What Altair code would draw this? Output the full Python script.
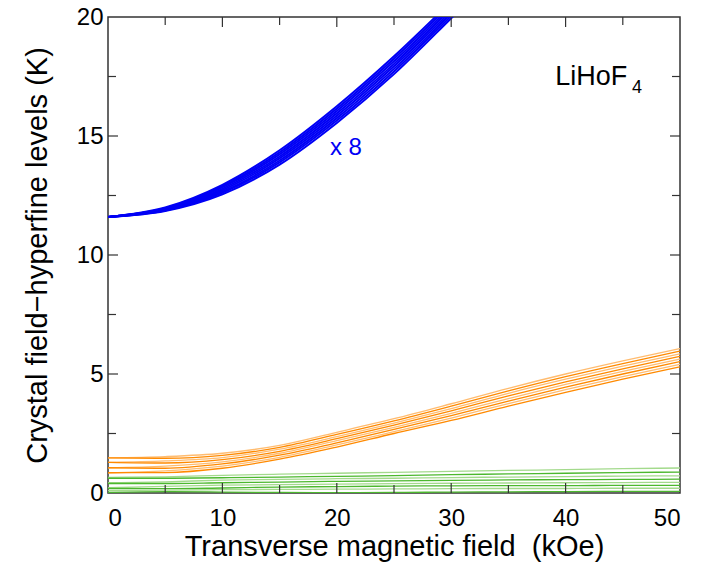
import altair as alt
import pandas as pd

# Field values (kOe) at which the levels are tabulated
field_blue = [0, 5, 10, 15, 20, 25, 30, 35]
field = [0, 5, 10, 15, 20, 25, 30, 35, 40, 45, 50]

# Upper multiplet (plotted energies scaled x 8), eight hyperfine levels (K)
blue_levels = [
    [11.6, 11.85, 12.55, 13.80, 15.55, 17.60, 19.95, 22.35],
    [11.6, 11.87, 12.61, 13.89, 15.65, 17.71, 20.05, 22.45],
    [11.6, 11.89, 12.66, 13.97, 15.75, 17.82, 20.15, 22.55],
    [11.6, 11.91, 12.72, 14.06, 15.85, 17.93, 20.25, 22.65],
    [11.6, 11.93, 12.78, 14.14, 15.95, 18.03, 20.35, 22.75],
    [11.6, 11.95, 12.84, 14.23, 16.05, 18.14, 20.45, 22.85],
    [11.6, 11.97, 12.89, 14.31, 16.15, 18.25, 20.55, 22.95],
    [11.6, 12.00, 12.95, 14.40, 16.25, 18.35, 20.65, 23.05],
]

# First excited doublet, eight hyperfine levels (K)
orange_levels = [
    [1.48, 1.53, 1.67, 2.00, 2.55, 3.12, 3.75, 4.40, 5.00, 5.55, 6.07],
    [1.48, 1.46, 1.58, 1.92, 2.46, 3.03, 3.65, 4.29, 4.89, 5.44, 5.96],
    [1.29, 1.35, 1.49, 1.84, 2.37, 2.94, 3.55, 4.19, 4.78, 5.33, 5.85],
    [1.29, 1.26, 1.40, 1.75, 2.28, 2.85, 3.45, 4.08, 4.67, 5.22, 5.74],
    [1.06, 1.13, 1.31, 1.67, 2.20, 2.76, 3.35, 3.97, 4.56, 5.11, 5.63],
    [1.06, 1.04, 1.22, 1.59, 2.11, 2.67, 3.25, 3.86, 4.45, 5.00, 5.52],
    [0.85, 0.93, 1.13, 1.50, 2.02, 2.58, 3.15, 3.76, 4.34, 4.89, 5.41],
    [0.85, 0.86, 1.04, 1.42, 1.93, 2.50, 3.05, 3.65, 4.23, 4.78, 5.30],
]

# Ground doublet, eight hyperfine levels (K)
green_levels = [
    [0.66, 0.68, 0.74, 0.79, 0.83, 0.87, 0.91, 0.95, 0.98, 1.02, 1.05],
    [0.62, 0.62, 0.64, 0.67, 0.70, 0.73, 0.77, 0.80, 0.83, 0.86, 0.88],
    [0.43, 0.47, 0.54, 0.57, 0.60, 0.62, 0.65, 0.67, 0.69, 0.71, 0.72],
    [0.40, 0.40, 0.43, 0.46, 0.49, 0.51, 0.53, 0.55, 0.56, 0.57, 0.58],
    [0.22, 0.28, 0.33, 0.35, 0.37, 0.39, 0.41, 0.42, 0.43, 0.44, 0.45],
    [0.19, 0.18, 0.21, 0.25, 0.27, 0.29, 0.30, 0.31, 0.31, 0.32, 0.32],
    [0.10, 0.12, 0.14, 0.15, 0.16, 0.17, 0.18, 0.19, 0.19, 0.20, 0.20],
    [0.03, 0.06, 0.04, 0.02, 0.01, 0.02, 0.04, 0.05, 0.06, 0.07, 0.07],
]

x_major = [10, 20, 30, 40]
x_minor = [5, 15, 25, 35, 45]
y_major = [5, 10, 15]
y_minor = [2.5, 7.5, 12.5, 17.5]

W, H = 572, 476
FONT = "Liberation Sans"

rows = []
for band, xs, levels, dark, light, sw in [
    ("blue", field_blue, blue_levels, "#0000f5", "#0000f5", 2.0),
    ("orange", field, orange_levels, "#ff8a00", "#ffbc70", 1.3),
    ("green", field, green_levels, "#4cb82e", "#a3da8c", 1.3),
]:
    for i, ys in enumerate(levels):
        shade = light if i % 2 == 0 else dark
        for x, y in zip(xs, ys):
            rows.append({"x": x, "y": y, "line": f"{band}{i}", "shade": shade, "sw": sw})
df = pd.DataFrame(rows)

xscale = alt.Scale(domain=[0, 50], nice=False, zero=False)
yscale = alt.Scale(domain=[0, 20], nice=False, zero=False)

lines = alt.Chart(df).mark_line(interpolate="monotone", clip=True).encode(
    x=alt.X("x:Q", scale=xscale,
            axis=alt.Axis(values=[0, 10, 20, 30, 40, 50], format="d",
                          title="Transverse magnetic field\u00a0\u00a0(kOe)",
                          labelPadding=13, titlePadding=2)),
    y=alt.Y("y:Q", scale=yscale,
            axis=alt.Axis(values=[0, 5, 10, 15, 20], format="d",
                          title="Crystal field\u2212hyperfine levels (K)",
                          labelPadding=5, titlePadding=24)),
    color=alt.Color("shade:N", scale=None),
    strokeWidth=alt.StrokeWidth("sw:Q", scale=None),
    detail="line:N",
)

tick_color = "#333333"
xt_major = pd.DataFrame({"x": x_major})
xt_minor = pd.DataFrame({"x": x_minor})
yt_major = pd.DataFrame({"y": y_major})
yt_minor = pd.DataFrame({"y": y_minor})


def xticks(data, length):
    bottom = alt.Chart(data).mark_rule(color=tick_color, strokeWidth=1.2).encode(
        x=alt.X("x:Q", scale=xscale), y=alt.value(H), y2=alt.value(H - length))
    top = alt.Chart(data).mark_rule(color=tick_color, strokeWidth=1.2).encode(
        x=alt.X("x:Q", scale=xscale), y=alt.value(0), y2=alt.value(length))
    return bottom + top


def yticks(data, length):
    left = alt.Chart(data).mark_rule(color=tick_color, strokeWidth=1.2).encode(
        y=alt.Y("y:Q", scale=yscale), x=alt.value(0), x2=alt.value(length))
    right = alt.Chart(data).mark_rule(color=tick_color, strokeWidth=1.2).encode(
        y=alt.Y("y:Q", scale=yscale), x=alt.value(W), x2=alt.value(W - length))
    return left + right


scale_note = alt.Chart(pd.DataFrame({"x": [20.8], "y": [14.2], "t": ["x 8"]})).mark_text(
    font=FONT, fontSize=24, color="#0000f5", align="center", baseline="alphabetic"
).encode(x=alt.X("x:Q", scale=xscale), y=alt.Y("y:Q", scale=yscale), text="t:N")

compound = alt.Chart(pd.DataFrame({"x": [39.1], "y": [17.15], "t": ["LiHoF"]})).mark_text(
    font=FONT, fontSize=27, color="black", align="left", baseline="alphabetic"
).encode(x=alt.X("x:Q", scale=xscale), y=alt.Y("y:Q", scale=yscale), text="t:N")

subscript = alt.Chart(pd.DataFrame({"x": [45.8], "y": [16.82], "t": ["4"]})).mark_text(
    font=FONT, fontSize=18, color="black", align="left", baseline="alphabetic"
).encode(x=alt.X("x:Q", scale=xscale), y=alt.Y("y:Q", scale=yscale), text="t:N")

chart = alt.layer(
    lines,
    xticks(xt_major, 10), xticks(xt_minor, 8),
    yticks(yt_major, 10), yticks(yt_minor, 8),
    scale_note, compound, subscript,
).properties(
    width=W, height=H,
    autosize=alt.AutoSizeParams(type="none"),
    padding={"left": 108, "top": 17, "right": 22, "bottom": 70},
).configure_view(
    stroke="#333333", strokeWidth=1.5
).configure_axis(
    domain=False, ticks=False, grid=False,
    labelFont=FONT, titleFont=FONT,
    labelFontSize=24, titleFontSize=29,
    labelColor="black", titleColor="black",
    titleFontWeight="normal",
)

chart.save("out.html", embed_options={"renderer": "svg", "actions": False})
